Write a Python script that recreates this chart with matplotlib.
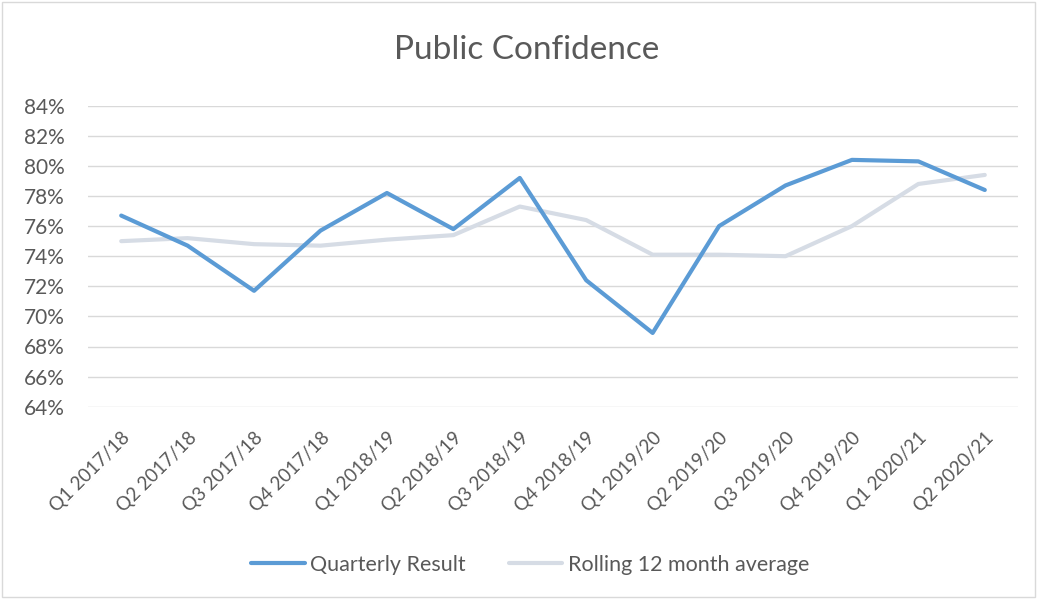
import matplotlib
matplotlib.use("Agg")
import matplotlib.pyplot as plt
from matplotlib.patches import Rectangle
from matplotlib.ticker import FuncFormatter

categories = ["Q1 2017/18", "Q2 2017/18", "Q3 2017/18", "Q4 2017/18",
              "Q1 2018/19", "Q2 2018/19", "Q3 2018/19", "Q4 2018/19",
              "Q1 2019/20", "Q2 2019/20", "Q3 2019/20", "Q4 2019/20",
              "Q1 2020/21", "Q2 2020/21"]
quarterly = [76.7, 74.7, 71.7, 75.7, 78.2, 75.8, 79.2, 72.4,
             68.9, 76.0, 78.7, 80.4, 80.3, 78.4]
rolling = [75.0, 75.2, 74.8, 74.7, 75.1, 75.4, 77.3, 76.4,
           74.1, 74.1, 74.0, 76.0, 78.8, 79.4]
yticks = list(range(64, 85, 2))

plt.rcParams['font.family'] = ['Lato', 'DejaVu Sans']
text_color = "#595959"

fig = plt.figure(figsize=(10.37, 5.99), dpi=100)
ax = fig.add_axes([88/1037, 1-406.7/599, 930/1037, 301/599])

x = list(range(len(categories)))
ax.plot(x, quarterly, color="#5B9BD5", lw=3.0, solid_joinstyle="round",
        solid_capstyle="round", label="Quarterly Result", zorder=3)
ax.plot(x, rolling, color="#D6DCE5", lw=3.0, solid_joinstyle="round",
        solid_capstyle="round", label="Rolling 12 month average", zorder=2)

ax.set_xlim(-0.5, len(categories)-0.5)
ax.set_ylim(64, 84)
ax.set_yticks(yticks)
ax.yaxis.set_major_formatter(FuncFormatter(lambda v, p: f"{int(v)}%"))
ax.set_xticks(x)
ax.set_xticklabels(categories, rotation=45, ha="right", va="top",
                   rotation_mode="anchor")
ax.tick_params(axis="both", length=0, colors=text_color)
ax.tick_params(axis="y", pad=17, labelsize=15)
ax.tick_params(axis="x", pad=16, labelsize=13.5)
ax.grid(axis="y", color="#D9D9D9", lw=1.0)
ax.set_axisbelow(True)
for s in ax.spines.values():
    s.set_visible(False)

fig.text(527/1037, 1-50/599, "Public Confidence", ha="center", va="center",
         fontsize=24, color=text_color)

leg = fig.legend(loc="center", bbox_to_anchor=(530/1037, 1-565/599), ncol=2,
                 frameon=False, fontsize=15.5, handlelength=2.5,
                 columnspacing=2.0, handletextpad=0.25)
for t in leg.get_texts():
    t.set_color(text_color)

fig.add_artist(Rectangle((2/1037, 2/599), 1-4/1037, 1-4/599,
                         transform=fig.transFigure, fill=False,
                         edgecolor="#D9D9D9", lw=1.0))

fig.savefig("out.png", dpi=100, facecolor="white")
